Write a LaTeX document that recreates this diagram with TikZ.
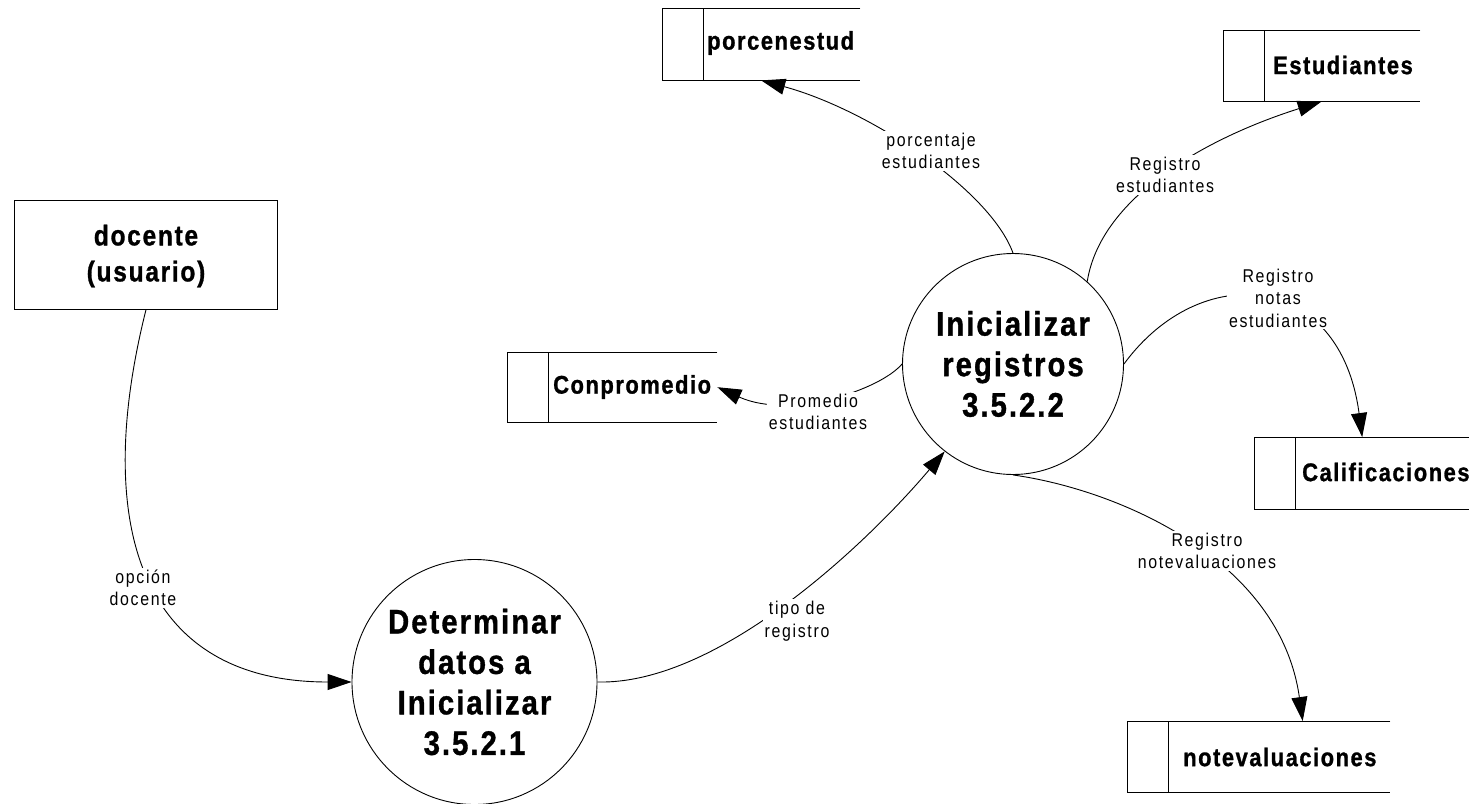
\documentclass[tikz,border=0pt]{standalone}
\usepackage{fontspec}
\usetikzlibrary{arrows.meta}
\newfontfamily\lblfont[FakeStretch=0.86,LetterSpace=9]{Liberation Sans}
\newfontfamily\boldfont[FakeStretch=0.86,LetterSpace=6,FakeBold=1]{Liberation Sans}

% open-ended data store: top, left and bottom edges plus the inner divider
\newcommand\drawstore[1]{%
  \draw (#1.north east) -- (#1.north west) -- (#1.south west) -- (#1.south east);
  \draw ([xshift=41pt]#1.north west) -- ([xshift=41pt]#1.south west);}

\tikzset{
  base/.style={line width=0.9pt},
  flow/.style={base, -{Triangle[length=24pt,width=16pt]}},
  process/.style={base, draw, circle, inner sep=0pt, align=center,
    font=\boldfont\bfseries\fontsize{34}{40.5}\selectfont},
  entity/.style={base, draw, rectangle, inner sep=0pt, anchor=north west},
  store/.style={rectangle, inner sep=0pt, anchor=north west},
  stext/.style={anchor=west, inner sep=0pt, font=\boldfont\bfseries\fontsize{25.5}{30}\selectfont},
  lbl/.style={fill=white, align=center, inner sep=2pt, font=\lblfont\fontsize{18.5}{22.5}\selectfont},
}

\begin{document}
\begin{tikzpicture}[x=1pt,y=-1pt]
\fill[white] (0,0) rectangle (1469,803);
\useasboundingbox (0,0) rectangle (1469,803);

% external entity
\node[entity, minimum width=263pt, minimum height=109pt] (doc) at (14,200) {};
\node[align=center, font=\boldfont\bfseries\fontsize{28.5}{36}\selectfont] (doct) at (146,256) {docente\\(usuario)};

% processes
\node[process, minimum size=245pt] (p1) at (474.5,682) {Determinar\\datos a\\Inicializar\\3.5.2.1};
\node[process, minimum size=221pt] (p2) at (1013,364) {Inicializar\\registros\\3.5.2.2};

% data stores
\node[store, minimum width=198pt, minimum height=72pt] (ps) at (662,8) {};
\node[stext] (pst) at (707,43) {porcenestud};
\node[store, minimum width=197pt, minimum height=71pt] (es) at (1223,30) {};
\node[stext] (est) at (1273,65) {Estudiantes};
\node[store, minimum width=210pt, minimum height=70pt] (cp) at (507,352) {};
\node[stext] (cpt) at (553,387) {Conpromedio};
\node[store, minimum width=216pt, minimum height=72pt] (ca) at (1254,437) {};
\node[stext] (cat) at (1302,472) {Calificaciones};
\node[store, minimum width=263pt, minimum height=71pt] (nv) at (1127,721) {};
\node[stext] (nvt) at (1183,757) {notevaluaciones};
\drawstore{ps}
\drawstore{es}
\drawstore{cp}
\drawstore{ca}
\drawstore{nv}

% data flows
\draw[flow] (doc.south) .. controls (92,525) and (140,682) .. (p1.west);
\draw[flow] (p1.east) .. controls (720,685) and (870,540) .. (p2.232);
\draw[flow] (p2.north) .. controls (990,190) and (870,110) .. (ps.south);
\draw[flow] (p2.48) .. controls (1100,200) and (1200,140) .. (es.south);
\draw[flow] (p2.east) .. controls (1200,260) and (1340,270) .. (ca.north);
\draw[flow] (p2.south) .. controls (1120,490) and (1280,560) .. ([xshift=44pt]nv.north);
\draw[flow] (p2.west) .. controls (880,390) and (790,420) .. (cp.east);

% flow labels
\node[lbl] (l1) at (143,588) {opción\\docente};
\node[lbl] (l2) at (797,621) {tipo de\\registro};
\node[lbl] (l3) at (931,151) {porcentaje\\estudiantes};
\node[lbl] (l4) at (1165,175) {Registro\\estudiantes};
\node[lbl] (l5) at (1278,298) {Registro\\notas\\estudiantes};
\node[lbl] (l6) at (1207,551) {Registro\\notevaluaciones};
\node[lbl] (l7) at (818,412) {Promedio\\estudiantes};
\end{tikzpicture}
\end{document}
